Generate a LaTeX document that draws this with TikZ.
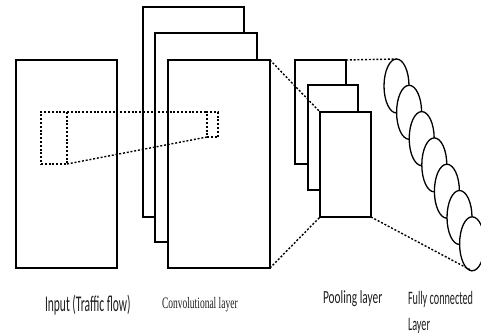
\documentclass[tikz,border=0pt]{standalone}
\usepackage{fontspec}
\usepackage{graphicx}
\usetikzlibrary{shapes.geometric}
\newfontfamily\calib{Carlito}
\newfontfamily\tms{Liberation Serif}
% stretched label: #1 horizontal factor, #2 vertical factor, #3 text
\newcommand{\stlabel}[3]{\scalebox{#1}[#2]{#3}}
\tikzset{
  sheet/.style={draw, fill=white, line width=1.4pt, rectangle, inner sep=0pt, outer sep=0pt, anchor=north west},
  neuron/.style={draw, fill=white, line width=1.3pt, ellipse, inner sep=0pt, outer sep=0pt,
    minimum width=25pt, minimum height=54pt},
  dotline/.style={line width=1.4pt, dash pattern=on 2pt off 1.8pt},
  patch/.style={draw, dotline, rectangle, inner sep=0pt, outer sep=0pt, anchor=north west},
  caption/.style={anchor=base west, inner sep=0pt, outer sep=0pt, text=black!88}
}
\begin{document}
\begin{tikzpicture}[x=1pt, y=-1pt]
\useasboundingbox (0,0) rectangle (481,334);
\clip (0,0) rectangle (481,334);

% input feature map
\node[sheet, minimum width=101pt, minimum height=208pt] (in) at (16,60) {};

% convolutional feature maps, back to front
\node[sheet, minimum width=101pt, minimum height=210pt] (c1) at (143,7) {};
\node[sheet, minimum width=102pt, minimum height=209pt] (c2) at (155,33) {};
\node[sheet, minimum width=102pt, minimum height=208pt] (c3) at (168,60) {};

% receptive field and its projection
\node[patch, minimum width=26pt, minimum height=52pt] (rf) at (41,112) {};
\node[patch, minimum width=11pt, minimum height=25pt] (rp) at (207,112) {};
\draw[dotline] (rf.north east) -- (rp.north west);
\draw[dotline] (rf.south east) -- (rp.south west);

% pooling maps, back to front
\node[sheet, minimum width=51pt, minimum height=104pt] (p1) at (295,60) {};
\node[sheet, minimum width=50pt, minimum height=105pt] (p2) at (308,85) {};
\node[sheet, minimum width=51pt, minimum height=105pt] (p3) at (320,112) {};

% conv -> pooling projection
\draw[dotline] (c3.north east) -- (p3.north west);
\draw[dotline] (c3.south east) -- (p3.south west);

% fully connected neurons
\foreach \k in {0,...,6} {
  \node[neuron] (n\k) at (396.5+12.6*\k, 86+26.3*\k) {};
}

% pooling -> fully connected projection
\draw[dotline] (p1.north east) -- (n0.north);
\draw[dotline] (p3.south east) -- (n6.south);

% captions
\node[caption] (tin) at (45,311) {\calib\fontsize{10}{12}\selectfont\stlabel{1.15}{2.25}{Input (Traffic flow)}};
\node[caption] (tconv) at (162,308) {\tms\fontsize{10}{12}\selectfont\stlabel{0.95}{1.6}{Convolutional layer}};
\node[caption] (tpool) at (323,303) {\calib\fontsize{10}{12}\selectfont\stlabel{1.14}{1.85}{Pooling layer}};
\node[caption] (tfc) at (408,304) {\calib\fontsize{10}{12}\selectfont\stlabel{1.02}{1.9}{Fully connected}};
\node[caption] (tfc2) at (408,330) {\calib\fontsize{10}{12}\selectfont\stlabel{1.02}{1.9}{Layer}};
\end{tikzpicture}
\end{document}
